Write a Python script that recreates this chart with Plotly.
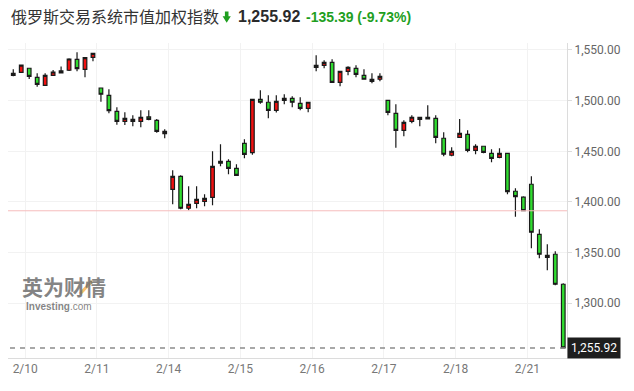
import plotly.graph_objects as go

# ---------------- data ----------------
candle_idx = list(range(70))
opens = [1525, 1528, 1532, 1523, 1515, 1525, 1527.3, 1530, 1540.8, 1530.9, 1542.8,
         1512.5, 1505.3, 1489.5, 1479.6, 1481.6, 1479.6, 1483.9, 1480.6, 1467.4,
         1412.5, 1425.3, 1393.8, 1398.7, 1400.6, 1404.6, 1440.1, 1440.1, 1433.2,
         1457.9, 1448.7, 1501.3, 1498.4, 1490.5, 1500.3, 1502.3, 1497.4, 1492.4,
         1532.9, 1534.9, 1537.8, 1518.1, 1528.9, 1531.9, 1525, 1519.1, 1521.1,
         1500.3, 1487.5, 1470.7, 1479.6, 1483.6, 1483.6, 1482.6, 1462.9, 1446.1,
         1463.8, 1466.8, 1451, 1455, 1448, 1444.1, 1448, 1410.6, 1404.7,
         1417.5, 1368.1, 1345.4, 1348.4, 1318.8]
highs = [1531, 1535, 1532.5, 1527, 1527, 1530.3, 1533.6, 1541.8, 1547.7, 1543, 1547,
         1512.5, 1511.2, 1493.4, 1488.5, 1485.5, 1490.5, 1490.5, 1481.9, 1471.7,
         1431.3, 1426.3, 1415.5, 1415.5, 1407.5, 1450, 1456.9, 1442.1, 1437.2,
         1461.8, 1501.3, 1510.2, 1505.3, 1505.3, 1506.3, 1504.3, 1503.3, 1498.4,
         1544.7, 1539.8, 1540.8, 1528.9, 1533.9, 1534.9, 1530.9, 1527, 1527,
         1500.3, 1496.4, 1480.6, 1485.5, 1483.6, 1495.4, 1485.5, 1468.8, 1454,
         1481.9, 1470.8, 1457, 1455, 1452, 1453, 1448, 1413.5, 1405.7,
         1425.4, 1373.1, 1358.3, 1351.4, 1319.8]
lows = [1524, 1527.5, 1521.4, 1513.8, 1515, 1525, 1527, 1529.3, 1529, 1523, 1538.8,
        1499, 1487.5, 1476.3, 1476, 1474.7, 1473.7, 1480.6, 1468.4, 1462.8,
        1397.7, 1392.8, 1391.8, 1393.8, 1395.7, 1396.7, 1435.2, 1427.3, 1426.3,
        1443.1, 1446.7, 1497, 1482.6, 1488.2, 1496.4, 1493.4, 1490.5, 1488.5,
        1528.9, 1531.9, 1518.1, 1514.1, 1525, 1523, 1521.1, 1517.1, 1519.1,
        1485.5, 1453.6, 1464.8, 1477.6, 1474.7, 1481.6, 1457.9, 1445.1, 1445.1,
        1463.8, 1449, 1447.1, 1448, 1439.2, 1443.1, 1407.6, 1385.5, 1391.5,
        1354.3, 1344.4, 1332.6, 1317.8, 1255.92]
closes = [1527, 1535, 1524, 1516, 1525, 1528.3, 1529.3, 1541.1, 1531.6, 1542.4, 1546.7,
          1506.3, 1490.1, 1479.6, 1482.6, 1479.6, 1483.6, 1481.6, 1469.7, 1469.7,
          1425.3, 1393.8, 1397.7, 1402.6, 1403.6, 1435.1, 1438.2, 1433.2, 1426.3,
          1447, 1501.3, 1498.4, 1490.5, 1499.3, 1502.3, 1498.4, 1492.4, 1498.4,
          1534.9, 1537.8, 1518.1, 1528.9, 1532.9, 1526, 1521.1, 1521.1, 1524,
          1488.5, 1470.7, 1478.6, 1483.6, 1481.6, 1481.9, 1463.8, 1447.1, 1450,
          1467.8, 1451, 1455, 1449, 1443.1, 1448, 1410.2, 1405.3, 1391.5,
          1370.1, 1348.4, 1347.4, 1318.8, 1255.92]

day_labels = ["2/10", "2/11", "2/14", "2/15", "2/16", "2/17", "2/18", "2/21"]
candles_per_day = 9
first_tick_index = 1.5
y_tick_values = [1300, 1350, 1400, 1450, 1500, 1550]

title_text = "俄罗斯交易系统市值加权指数"
last_price = 1255.92
prev_close = 1391.31
change = -135.39
change_pct = -9.73

# ---------------- layout geometry ----------------
W, H = 634, 391
ML, MR, MT, MB = 8, 67, 43, 33
PW, PH = W - ML - MR, H - MT - MB


def px(xp):
    return (xp - ML) / PW


def py(yp):
    return (H - MB - yp) / PH


UP_FILL = "#f01010"
DOWN_FILL = "#2fdc2f"
GREEN_TXT = "#1f9f1f"
WM = "rgba(110,110,110,0.85)"

tick_positions = [first_tick_index + candles_per_day * k for k in range(len(day_labels))]

fig = go.Figure(go.Candlestick(
    x=candle_idx, open=opens, high=highs, low=lows, close=closes,
    increasing=dict(line=dict(color="#1a1a1a", width=1.2), fillcolor=UP_FILL),
    decreasing=dict(line=dict(color="#1a1a1a", width=1.2), fillcolor=DOWN_FILL),
    whiskerwidth=0, showlegend=False,
))

# arrow icon in title
ax0, ax1, axm = 222.6, 230.8, 226.7
s0, s1 = 224.9, 228.5
arrow_pts = [(s0, 11.5), (s1, 11.5), (s1, 16.3), (ax1, 16.3), (axm, 22.8), (ax0, 16.3), (s0, 16.3)]
arrow_path = "M " + " L ".join(f"{px(a):.5f},{py(b):.5f}" for a, b in arrow_pts) + " Z"

shapes = [
    dict(type="line", xref="paper", yref="y", x0=0, x1=1, y0=prev_close, y1=prev_close,
         line=dict(color="#f6bcbc", width=1)),
    dict(type="line", xref="paper", yref="y", x0=px(10), x1=1, y0=last_price, y1=last_price,
         line=dict(color="#8c8c8c", width=1.5, dash="5px,5px")),
    dict(type="path", xref="paper", yref="paper", path=arrow_path,
         fillcolor=GREEN_TXT, line=dict(width=0)),
    # orange stroke of the watermark logo
    dict(type="line", xref="paper", yref="paper", x0=px(80), y0=py(294), x1=px(92), y1=py(281),
         line=dict(color="rgba(245,170,60,0.75)", width=3)),
]

annotations = [
    dict(xref="paper", yref="paper", x=px(9), y=py(16), xanchor="left", yanchor="middle",
         text=title_text, showarrow=False,
         font=dict(family="Noto Sans CJK SC", size=16, color="#333333")),
    dict(xref="paper", yref="paper", x=px(236), y=py(16.5), xanchor="left", yanchor="middle",
         text=f"<b>{last_price:,.2f}</b>", showarrow=False,
         font=dict(family="Liberation Sans, Arial", size=16, color="#2a2a2a")),
    dict(xref="paper", yref="paper", x=px(304), y=py(16.5), xanchor="left", yanchor="middle",
         text=f"<b>{change:,.2f} ({change_pct:.2f}%)</b>", showarrow=False,
         font=dict(family="Liberation Sans, Arial", size=14, color=GREEN_TXT)),
    dict(xref="paper", yref="y", x=1, y=last_price, xanchor="left", yanchor="middle",
         text=f"{last_price:,.2f}", showarrow=False, bgcolor="#1e1e1e", borderpad=3,
         font=dict(family="Roboto", size=12, color="#ffffff")),
    dict(xref="paper", yref="paper", x=px(64), y=py(286), xanchor="center", yanchor="middle",
         text="<b>英为财情</b>", showarrow=False, borderpad=0,
         font=dict(family="Noto Sans CJK SC", size=21, color=WM)),
    dict(xref="paper", yref="paper", x=px(25), y=py(306), xanchor="left", yanchor="middle",
         text="<b>Investing</b>.com", showarrow=False, borderpad=0,
         font=dict(family="Liberation Sans, Arial", size=10, color=WM)),
]

fig.update_layout(
    width=W, height=H,
    margin=dict(l=ML, r=MR, t=MT, b=MB),
    paper_bgcolor="white", plot_bgcolor="white",
    boxgap=0.35,
    showlegend=False,
    shapes=shapes,
    annotations=annotations,
    xaxis=dict(range=[-0.66, 69.47], tickvals=tick_positions, ticktext=day_labels,
               showgrid=True, gridcolor="#f2f2f2", gridwidth=1,
               showline=True, linecolor="#dcdcdc", linewidth=1, zeroline=False,
               ticks="", rangeslider=dict(visible=False),
               tickfont=dict(family="Roboto", size=12, color="#777777")),
    yaxis=dict(side="right", range=[1246.0, 1556.9], tickvals=y_tick_values,
               tickformat=",.2f", showgrid=True, gridcolor="#f2f2f2", gridwidth=1,
               showline=True, linecolor="#dcdcdc", linewidth=1, zeroline=False,
               ticks="outside", ticklen=4, tickcolor="#dcdcdc",
               tickfont=dict(family="Roboto", size=12, color="#666666")),
)

fig.write_html("out.html", config={"displayModeBar": False},
               post_script="document.body.style.margin='0';")
